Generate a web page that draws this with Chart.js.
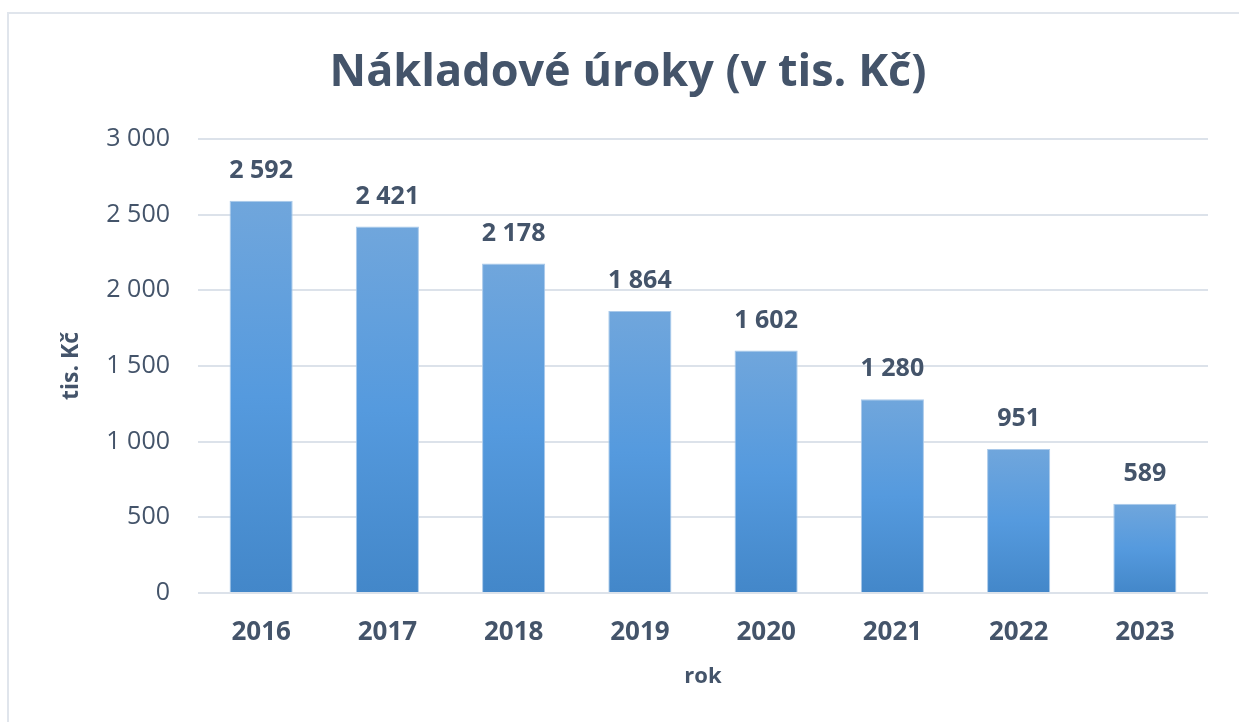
<!DOCTYPE html>
<html>
<head>
<meta charset="utf-8">
<script src="https://cdn.jsdelivr.net/npm/chart.js@4"></script>
<style>
  html, body { margin: 0; padding: 0; background: #fff; }
  #frame { position: absolute; left: 7px; top: 12px; width: 1240px; height: 720px; border: 2px solid #e0e5ec; }
  #wrap { position: absolute; left: 0; top: 0; width: 1239px; height: 722px; }
</style>
</head>
<body>
<div id="frame"></div>
<div id="wrap"><canvas id="myChart" width="1239" height="722"></canvas></div>
<script>
  const years = ['2016', '2017', '2018', '2019', '2020', '2021', '2022', '2023'];
  const interest = [2592, 2421, 2178, 1864, 1602, 1280, 951, 589];
  const yTicks = [0, 500, 1000, 1500, 2000, 2500, 3000];

  const textColor = '#44546a';
  const fontName = '"Open Sans", "Noto Sans", sans-serif';

  function fmt(v) {
    return String(v).replace(/\B(?=(\d{3})+(?!\d))/g, ' ');
  }

  // gradient per bar, light at the top, darker at the bottom
  function barFill(context) {
    const chart = context.chart;
    const y = chart.scales.y;
    if (!chart.chartArea || !y || context.raw === undefined) return '#5399de';
    const top = y.getPixelForValue(context.raw);
    const bottom = y.getPixelForValue(0);
    if (!isFinite(top) || !isFinite(bottom) || top === bottom) return '#5399de';
    const g = chart.ctx.createLinearGradient(0, top, 0, bottom);
    g.addColorStop(0, '#70a6dc');
    g.addColorStop(0.5, '#559ade');
    g.addColorStop(1, '#4387c9');
    return g;
  }

  const valueLabels = {
    id: 'valueLabels',
    afterDatasetsDraw(chart) {
      const ctx = chart.ctx;
      const meta = chart.getDatasetMeta(0);
      ctx.save();
      ctx.font = 'bold 25px ' + fontName;
      ctx.fillStyle = textColor;
      ctx.textAlign = 'center';
      ctx.textBaseline = 'middle';
      meta.data.forEach((bar, i) => {
        ctx.fillText(fmt(interest[i]), bar.x, bar.y - 30);
      });
      ctx.restore();
    }
  };

  const ctx = document.getElementById('myChart').getContext('2d');
  const myChart = new Chart(ctx, {
    type: 'bar',
    data: {
      labels: years,
      datasets: [{
        label: 'Nákladové úroky',
        data: interest,
        backgroundColor: barFill,
        borderColor: '#a9c9ea',
        borderWidth: 1,
        categoryPercentage: 1,
        barPercentage: 0.5
      }]
    },
    options: {
      responsive: false,
      animation: false,
      layout: { padding: { left: 48, right: 31, top: 25, bottom: 30 } },
      plugins: {
        legend: { display: false },
        tooltip: { enabled: false },
        title: {
          display: true,
          text: 'Nákladové úroky (v tis. Kč)',
          color: textColor,
          font: { family: fontName, size: 45, weight: 'bold' },
          padding: { top: 21, bottom: 39 }
        }
      },
      scales: {
        x: {
          afterFit(scale) {
            scale.height = 99;
          },
          grid: { display: false, drawTicks: false },
          border: { display: false },
          ticks: {
            color: textColor,
            font: { family: fontName, size: 26, weight: 'bold' },
            padding: 24
          },
          title: {
            display: true,
            text: 'rok',
            color: textColor,
            font: { family: fontName, size: 22, weight: 'bold' },
            padding: { top: 10, bottom: 2 }
          }
        },
        y: {
          min: 0,
          max: 3000,
          afterBuildTicks(scale) {
            scale.ticks = yTicks.map(v => ({ value: v }));
          },
          afterFit(scale) {
            scale.width = 150;
          },
          grid: { color: '#dce2ea', lineWidth: 2, drawTicks: false },
          border: { display: false },
          ticks: {
            color: textColor,
            font: { family: fontName, size: 25 },
            padding: 28,
            callback: v => fmt(v)
          },
          title: {
            display: true,
            text: 'tis. Kč',
            color: textColor,
            font: { family: fontName, size: 23, weight: 'bold' },
            padding: { top: 10, bottom: 0 }
          }
        }
      }
    },
    plugins: [valueLabels]
  });
</script>
</body>
</html>
